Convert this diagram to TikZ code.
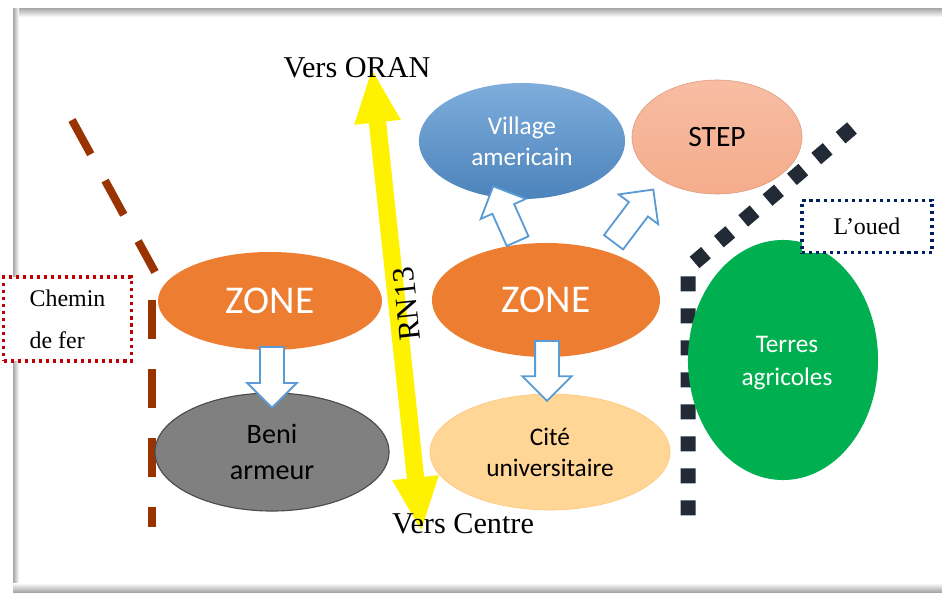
\documentclass[tikz,border=0pt]{standalone}
\usepackage{fontspec}
\setmainfont{Liberation Serif}
\setsansfont{Carlito}
\usetikzlibrary{shapes.geometric,shapes.arrows,positioning}
\definecolor{zoneorange}{RGB}{237,125,49}
\definecolor{villageblue}{RGB}{84,146,208}
\definecolor{steppink}{RGB}{245,172,140}
\definecolor{benigray}{RGB}{128,128,128}
\definecolor{citeyellow}{RGB}{255,214,150}
\definecolor{terregreen}{RGB}{0,176,80}
\definecolor{arrowblue}{RGB}{91,155,213}
\definecolor{railbrown}{RGB}{153,51,0}
\definecolor{riverdark}{RGB}{34,42,53}
\definecolor{boxred}{RGB}{192,0,0}
\definecolor{boxnavy}{RGB}{0,32,96}
\tikzset{
  zone/.style={ellipse, fill=zoneorange, inner sep=0pt, text=white,
               font=\sffamily\fontsize{28}{30}\selectfont},
  place/.style={ellipse, inner sep=0pt, align=center,
                font=\sffamily\fontsize{18}{22}\selectfont},
  blockarrow/.style={single arrow, draw=arrowblue, fill=white, line width=1.3pt,
                     inner xsep=0pt, inner ysep=0.275cm,
                     single arrow head extend=0.32cm},
  road/.style={double arrow, fill=yellow, inner xsep=0pt, inner ysep=0.21cm,
               double arrow head extend=0.37cm, double arrow tip angle=48},
  rail/.style={draw=railbrown, line width=0.2cm, dash pattern=on 0.975cm off 0.75cm},
  river/.style={draw=riverdark, line width=0.375cm, dash pattern=on 0.375cm off 0.425cm},
  legend/.style={rectangle, fill=white, line width=2.2pt,
                 dash pattern=on 2.2pt off 2.8pt, align=left,
                 font=\fontsize{17}{30}\selectfont},
  direction/.style={font=\fontsize{21.5}{24}\selectfont}
}
\begin{document}
\begin{tikzpicture}[x=0.025cm, y=-0.025cm]
\useasboundingbox (0,0) rectangle (942,598);
% cadre
\shade[top color=gray!70, bottom color=white] (13,8) rectangle (942,17);
\shade[left color=gray!70, right color=white] (13,8) rectangle (19,592);
\shade[top color=white, bottom color=gray!70] (13,583) rectangle (942,592);
\draw[double, line width=0.6pt, double distance=0.9pt] (11,6) rectangle (960,594);

% chemin de fer et oued
\draw[rail] (72,120) -- (155,272);
\draw[rail] (152,300) -- (152,527);
\draw[river] (852,128) -- (688,268) -- (688,518);

% zones et lieux
\node[zone, minimum width=5.6cm, minimum height=2.45cm] (zoneL) at (270,301) {ZONE};
\node[zone, minimum width=5.7cm, minimum height=2.85cm] (zoneR) at (546,300) {ZONE};
\node[place, top color=villageblue!75!white, bottom color=villageblue!90!black,
      text=white, minimum width=5.15cm, minimum height=2.9cm] (village) at (522,141)
      {Village\\americain};
\node[place, top color=steppink!80!white, bottom color=steppink, draw=steppink!90!black,
      font=\sffamily\fontsize{21}{24}\selectfont,
      minimum width=4.25cm, minimum height=2.85cm] (step) at (717,137) {STEP};
\node[place, fill=benigray, draw=black!70, thick, font=\sffamily\fontsize{20}{25}\selectfont,
      minimum width=5.85cm, minimum height=2.95cm] (beni) at (272,452) {Beni\\armeur};
\node[place, fill=citeyellow, draw=citeyellow!80!orange,
      minimum width=6.0cm, minimum height=2.9cm] (cite) at (550,452) {Cité\\universitaire};
\node[place, fill=terregreen, text=white, font=\sffamily\fontsize{18}{23}\selectfont,
      minimum width=4.75cm, minimum height=6.0cm] (terres) at (783,360) {};
\node[text=white, align=center, font=\sffamily\fontsize{18}{23}\selectfont]
      (terrestext) at (787,363) {Terres\\agricoles};

% fleches
\node[blockarrow, minimum height=1.52cm, rotate=-90, anchor=tail] (toBeni) at (272,346) {};
\node[blockarrow, minimum height=1.5cm, rotate=-90, anchor=tail] (toCite) at (547,340) {};
\node[blockarrow, minimum height=1.5cm, rotate=114, anchor=tail] (toVillage) at (518,242) {};
\node[blockarrow, minimum height=1.65cm, rotate=53, anchor=tail] (toStep) at (613,243) {};

% RN13
\node[road, minimum height=11.57cm, rotate=96.1] (rn13) at (396.5,300) {};
\node[rotate=96, font=\fontsize{22}{24}\selectfont] (rnlabel) at (407,304) {RN13};
\node[direction] (oran) at (357,68) {Vers ORAN};
\node[direction] (centre) at (463,524) {Vers Centre};

% legendes
\node[legend, draw=boxred, minimum width=3.18cm, minimum height=2.1cm] (chemin)
      at (67.5,319) {Chemin\\de fer};
\node[legend, draw=boxnavy, minimum width=3.25cm, minimum height=1.32cm] (oued)
      at (867,226.5) {L’oued};
\end{tikzpicture}
\end{document}
